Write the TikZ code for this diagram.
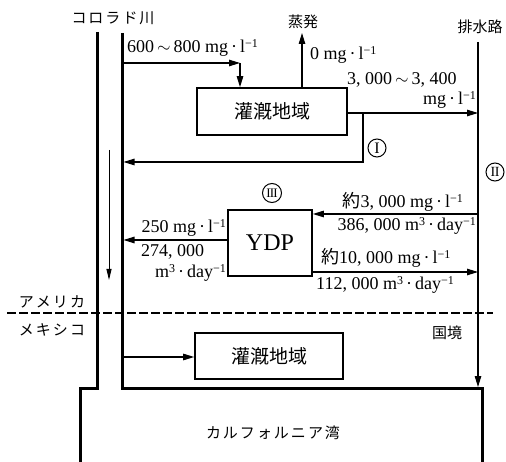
\documentclass[tikz,border=0pt]{standalone}
\usepackage{fontspec}
\setmainfont{Liberation Serif}
\newfontfamily\jp{Noto Sans CJK JP}
\usetikzlibrary{arrows.meta}
\newcommand{\inv}{\raisebox{0.6ex}{\fontsize{12}{12}\selectfont −1}}
\newcommand{\cubic}{\raisebox{0.6ex}{\fontsize{12}{12}\selectfont 3}}
\newcommand{\md}{\,·\,}
\newcommand{\tl}{\,$\sim$\,}
\newcommand{\gp}{\kern2pt}
\begin{document}
\begin{tikzpicture}[x=1pt,y=-1pt,
  wall/.style={line width=3pt},
  box/.style={draw, line width=1.7pt, inner sep=0pt, font=\jp\fontsize{19}{19}\selectfont},
  arr/.style={line width=1.1pt, -{Stealth[length=11pt,width=6.5pt,inset=0pt]}},
  lbl/.style={inner sep=0pt, font=\fontsize{18}{18}\selectfont},
  jl/.style={inner sep=0pt, font=\jp\fontsize{15}{15}\selectfont},
  rn/.style={circle, draw, line width=1pt, minimum size=18pt, inner sep=0pt, font=\fontsize{16}{16}\selectfont},
  border/.style={line width=1.2pt, dash pattern=on 9pt off 3pt}]
\useasboundingbox (0,0) rectangle (506,462);

% river walls and gulf
\draw[wall] (97,32) -- (97,388) -- (80,388) -- (80,462);
\draw[wall] (122,33) -- (122,388) -- (482,388) -- (482,462);

% boxes
\node[box, minimum width=150pt, minimum height=47pt] (ir1) at (272,111.5) {灌漑地域};
\node[box, minimum width=84pt, minimum height=66pt, font=\fontsize{24}{24}\selectfont] (ydp) at (270,243) {YDP};
\node[box, minimum width=148pt, minimum height=46pt] (ir2) at (269,356) {灌漑地域};

% coordinates
\coordinate (rin) at (123.5,63);
\coordinate (bend) at (240,63);
\coordinate (evap) at (302,33);
\coordinate (dtop) at (478,42);
\coordinate (dbot) at (478,387);
\coordinate (retx) at (363,162);
\coordinate (rret) at (123.5,162);
\coordinate (ryd) at (123.5,240);
\coordinate (rlow) at (123.5,357);
\coordinate (ftop) at (109,150);
\coordinate (fbot) at (109,280);
\coordinate (bl) at (7,313);
\coordinate (br) at (493,313);

% connectors
\draw[arr] (rin) -- (bend);
\draw[arr] (bend) -- (bend |- ir1.north);
\draw[arr] (evap |- ir1.north) -- (evap);
\draw[arr] (dtop) -- (dbot);
\draw[arr] (ir1.east |- 0,113) -- (dtop |- 0,113);
\draw[arr] (retx |- 0,113) -- (retx) -- (rret);
\draw[arr] (dtop |- 0,214) -- (ydp.east |- 0,214);
\draw[arr] (ydp.east |- 0,272) -- (dtop |- 0,272);
\draw[arr] (ydp.west |- ryd) -- (ryd);
\draw[arr] (rlow) -- (ir2.west |- rlow);
\draw[line width=0.9pt, -{Stealth[length=11pt,width=5pt,inset=0pt]}] (ftop) -- (fbot);
\draw[border] (bl) -- (br);

% labels
\node[jl] (lco) at (113,18) {コ\gp ロ\gp ラ\gp ド\gp 川};
\node[lbl, anchor=west] (l1) at (127,48) {600\tl 800 mg\md l\inv};
\node[jl] (lev) at (303,22) {蒸発};
\node[lbl, anchor=west] (l2) at (310,55) {0 mg\md l\inv};
\node[lbl, anchor=west] (l3) at (347,80) {3, 000\tl 3, 400};
\node[lbl, anchor=east] (l4) at (476,100) {mg\md l\inv};
\node[jl] (ldr) at (480,27) {排水路};
\node[rn] (c1) at (377,148) {I};
\node[rn, font=\fontsize{14}{14}\selectfont] (c2) at (495,172) {I\kern-0.5pt I};
\node[rn, minimum size=19pt, font=\fontsize{13}{13}\selectfont] (c3) at (272,193) {I\kern-0.8pt I\kern-0.8pt I};
\node[lbl, anchor=east] (l5) at (226,228) {250 mg\md l\inv};
\node[lbl, anchor=west] (l6) at (141,252) {274, 000};
\node[lbl, anchor=east] (l7) at (226,273) {m\cubic\md day\inv};
\node[lbl, anchor=east] (l8) at (463,202) {{\jp 約}3, 000 mg\md l\inv};
\node[lbl, anchor=east] (l9) at (476,226) {386, 000 m\cubic\md day\inv};
\node[lbl, anchor=west] (l10) at (321,258) {{\jp 約}10, 000 mg\md l\inv};
\node[lbl, anchor=west] (l11) at (316,285) {112, 000 m\cubic\md day\inv};
\node[jl] (lus) at (52,302) {ア\gp メ\gp リ\gp カ};
\node[jl] (lmx) at (52,330) {メ\gp キ\gp シ\gp コ};
\node[jl] (lbd) at (447,333) {国境};
\node[jl] (lgc) at (273,433) {カ\gp ル\gp フ\gp ォ\gp ル\gp ニ\gp ア\gp 湾};
\end{tikzpicture}
\end{document}
